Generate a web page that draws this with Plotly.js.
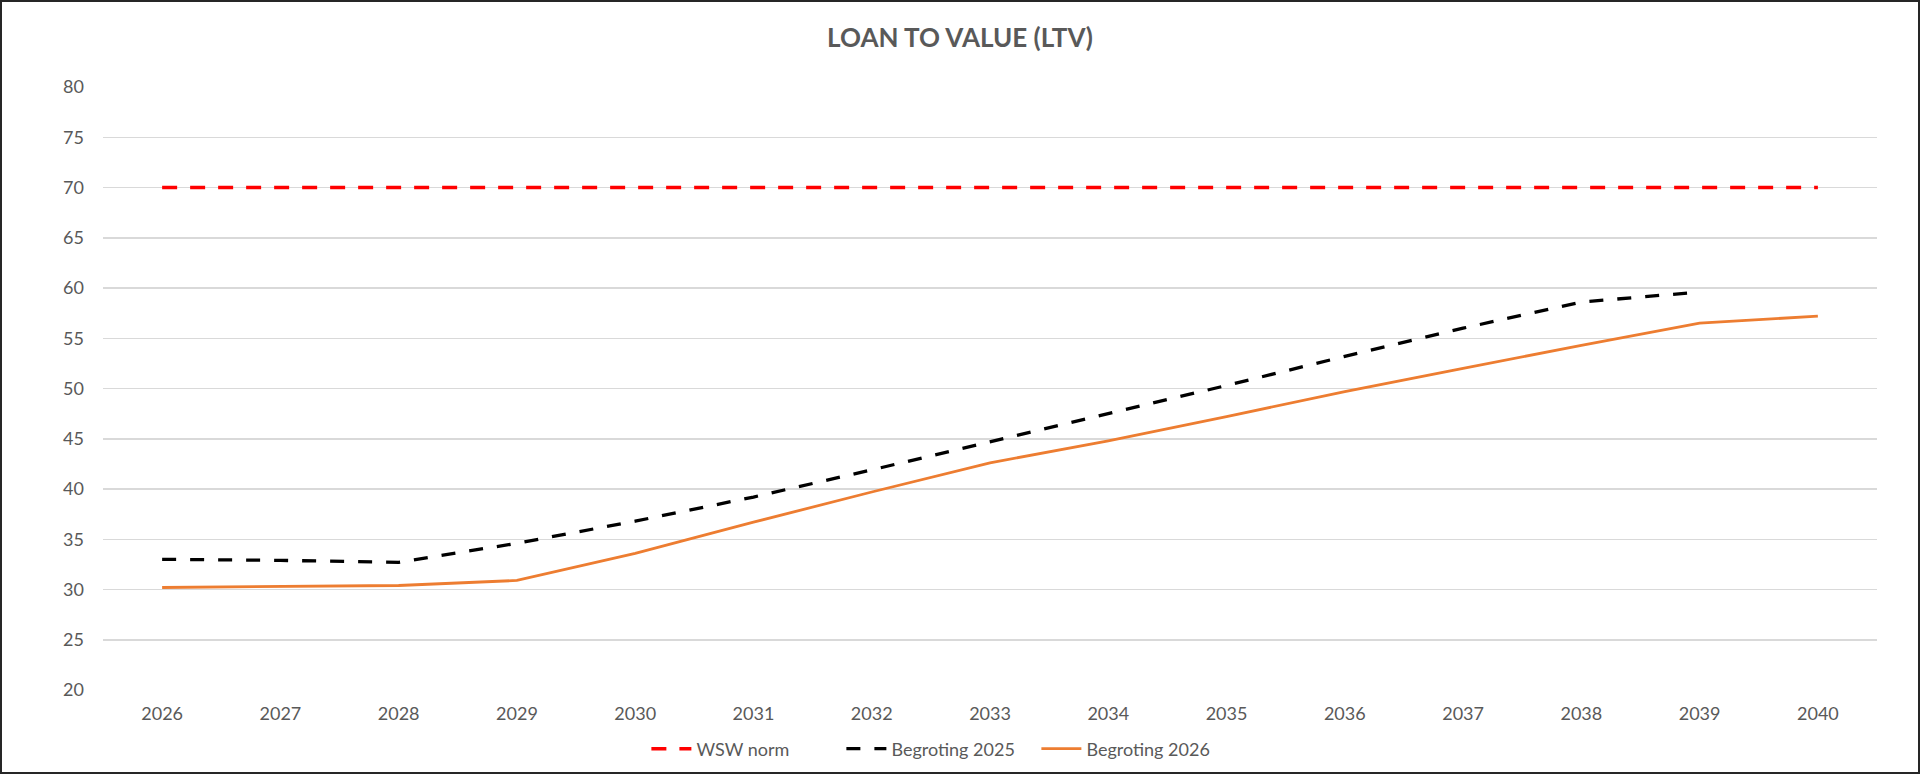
<!DOCTYPE html>
<html>
<head>
<meta charset="utf-8">
<script src="https://cdn.plot.ly/plotly-3.0.1.min.js"></script>
<style>
  html, body { margin: 0; padding: 0; background: #ffffff; }
  #wrap { position: relative; width: 1920px; height: 774px; }
  #chart { width: 1920px; height: 774px; }
  #frame { position: absolute; left: 0; top: 0; width: 1920px; height: 774px; box-sizing: border-box; border: 2px solid #262626; pointer-events: none; }
</style>
</head>
<body>
<div id="wrap">
  <div id="chart"></div>
  <div id="frame"></div>
</div>
<script>
const years = ['2026','2027','2028','2029','2030','2031','2032','2033','2034','2035','2036','2037','2038','2039','2040'];
const wswNorm = [70,70,70,70,70,70,70,70,70,70,70,70,70,70,70];
const begroting2025 = [33.0,32.9,32.7,34.6,36.8,39.2,41.9,44.7,47.5,50.3,53.2,56.0,58.6,59.6,null];
const begroting2026 = [30.2,30.3,30.4,30.9,33.6,36.7,39.7,42.6,44.8,47.2,49.7,52.0,54.3,56.5,57.2];
const yTicks = [20,25,30,35,40,45,50,55,60,65,70,75,80];

const font = 'Lato, "Open Sans", sans-serif';
const grey = '#595959';

const traces = [
  { x: years, y: wswNorm, name: 'WSW norm', type: 'scatter', mode: 'lines',
    line: { color: '#ff0000', width: 3.5, dash: '15px,13px' } },
  { x: years, y: begroting2025, name: 'Begroting 2025', type: 'scatter', mode: 'lines',
    line: { color: '#000000', width: 3.3, dash: '14px,14px' } },
  { x: years, y: begroting2026, name: 'Begroting 2026', type: 'scatter', mode: 'lines',
    line: { color: '#ed7d31', width: 2.8 } }
];

const layout = {
  width: 1920, height: 774,
  paper_bgcolor: '#ffffff', plot_bgcolor: '#ffffff',
  margin: { l: 103, r: 43, t: 87, b: 84 },
  title: { text: 'LOAN TO VALUE (LTV)', x: 0.5, xref: 'container', xanchor: 'center', y: 1 - 38/774, yref: 'container', yanchor: 'middle',
           font: { family: font, size: 26, color: grey, weight: 'bold' } },
  xaxis: { type: 'category', range: [-0.5, 14.5], showgrid: false, zeroline: false, showline: false,
           ticks: '', tickfont: { family: font, size: 18, color: grey }, ticklabelstandoff: 11, fixedrange: true },
  yaxis: { range: [20, 80], tickvals: yTicks, ticktext: yTicks.map(String), showgrid: true, gridcolor: '#d9d9d9', gridwidth: 1.5,
           zeroline: false, showline: false, ticks: '', tickfont: { family: font, size: 18, color: grey }, ticklabelstandoff: 18, fixedrange: true },
  showlegend: true,
  legend: { orientation: 'h', x: 0.489, xref: 'container', xanchor: 'center', y: 1 - 749/774, yref: 'container', yanchor: 'middle',
            font: { family: font, size: 18, color: grey }, itemwidth: 40, traceorder: 'normal',
            entrywidth: 140, entrywidthmode: 'pixels' },
  hovermode: false
};

Plotly.newPlot('chart', traces, layout, { displayModeBar: false, staticPlot: true });
</script>
</body>
</html>
